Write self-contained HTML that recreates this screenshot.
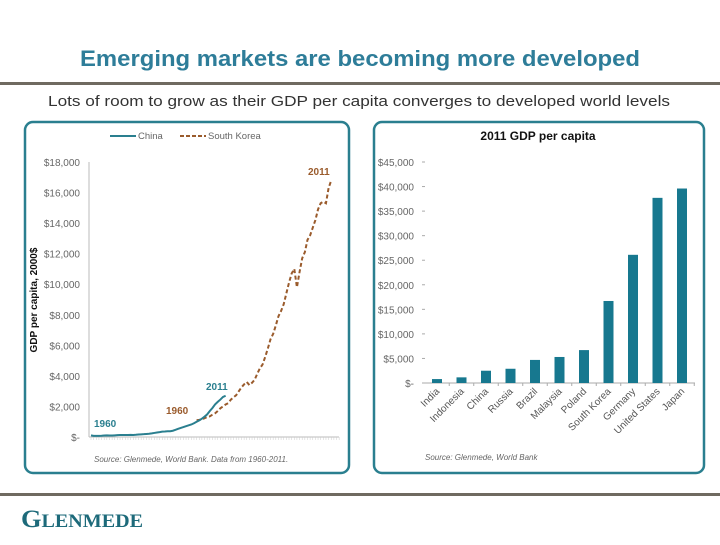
<!DOCTYPE html>
<html><head><meta charset="utf-8"><style>
body{margin:0;background:#fff;width:720px;height:540px;overflow:hidden}
svg text{font-family:"Liberation Sans",sans-serif}
</style></head><body>
<svg width="720" height="540" viewBox="0 0 720 540">
<text x="80" y="66" textLength="560" lengthAdjust="spacingAndGlyphs" font-size="22" font-weight="bold" fill="#2E7D99">Emerging markets are becoming more developed</text>
<rect x="0" y="82" width="720" height="3" fill="#6f6a60"/>
<text x="48" y="106" textLength="622" lengthAdjust="spacingAndGlyphs" font-size="15" fill="#333">Lots of room to grow as their GDP per capita converges to developed world levels</text>
<rect x="0" y="493" width="720" height="3" fill="#6f6a60"/>
<text x="21" y="527" textLength="122" lengthAdjust="spacingAndGlyphs" style="font-family:'Liberation Serif',serif" font-weight="bold" fill="#1d6a7a"><tspan font-size="25">G</tspan><tspan font-size="19">LENMEDE</tspan></text>

<rect x="25" y="122" width="324" height="351" rx="8" fill="#fff" stroke="#2a7f8f" stroke-width="2.5"/>
<rect x="374" y="122" width="330" height="351" rx="8" fill="#fff" stroke="#2a7f8f" stroke-width="2.5"/>
<g id="left"></g>
<g id="right"></g>
</svg>
<script>
const lineYTicks=[0,2000,4000,6000,8000,10000,12000,14000,16000,18000];
const lineYLabels=["$-","$2,000","$4,000","$6,000","$8,000","$10,000","$12,000","$14,000","$16,000","$18,000"];
const chinaGdp=[105,75,70,75,85,100,110,100,95,110,125,130,130,135,135,140,135,145,165,175,185,200,215,235,265,295,320,350,360,375,380,410,470,535,595,650,710,765,820,900,1000,1090,1200,1330,1480,1700,1900,2130,2300,2450,2620,2700];
const koreaGdp=[1100,1120,1150,1230,1300,1350,1460,1550,1700,1880,2000,2130,2220,2450,2600,2740,3000,3250,3450,3600,3400,3550,3750,4150,4500,4750,5250,5800,6400,6750,7300,7900,8250,8700,9400,10100,10700,11000,9800,10800,11700,12100,12900,13200,13700,14200,14900,15300,15400,15300,16300,16800];
const koreaOffset=40;
const barCats=["India","Indonesia","China","Russia","Brazil","Malaysia","Poland","South Korea","Germany","United States","Japan"];
const barVals=[800,1150,2500,2900,4700,5300,6700,16700,26100,37700,39600];
const barYTicks=[0,5000,10000,15000,20000,25000,30000,35000,40000,45000];
const barYLabels=["$-","$5,000","$10,000","$15,000","$20,000","$25,000","$30,000","$35,000","$40,000","$45,000"];

const NS="http://www.w3.org/2000/svg";
function mk(p,t,a,txt){const e=document.createElementNS(NS,t);for(const k in a)e.setAttribute(k,a[k]);if(txt!==undefined)e.textContent=txt;p.appendChild(e);return e;}
const L=document.getElementById('left'),R=document.getElementById('right');
const ly=v=>437-v/18000*275, lx=i=>91+i*2.64;
lineYTicks.forEach((t,i)=>{const e=mk(L,'text',{x:80,y:ly(t)+4,'text-anchor':'end','font-size':10,fill:'#666'},lineYLabels[i]);

});
mk(L,'line',{x1:89,y1:162,x2:89,y2:437,stroke:'#bbb'});
mk(L,'line',{x1:89,y1:437,x2:339,y2:437,stroke:'#bbb'});
for(let i=0;i<95;i++)mk(L,'line',{x1:lx(i),y1:437,x2:lx(i),y2:440,stroke:'#ccc','stroke-width':0.5});
const yt=mk(L,'text',{x:0,y:0,transform:'translate(37,300) rotate(-90)','text-anchor':'middle','font-size':10,'font-weight':'bold',fill:'#111'},'GDP per capita, 2000$');


const kp=mk(L,'polyline',{points:koreaGdp.map((v,i)=>lx(i+koreaOffset)+','+ly(v)).join(' '),fill:'none',stroke:'#9a5b2c','stroke-width':2,'stroke-dasharray':'4,2.5'});


const cp=mk(L,'polyline',{points:chinaGdp.map((v,i)=>lx(i)+','+ly(v)).join(' '),fill:'none',stroke:'#2a7f8f','stroke-width':2});


[[94,427,'1960','#2a7f8f'],[206,390,'2011','#2a7f8f'],[166,414,'1960','#9a5b2c'],[308,175,'2011','#9a5b2c']].forEach(a=>{const e=mk(L,'text',{x:a[0],y:a[1],'font-size':10,'font-weight':'bold',fill:a[3]},a[2]);

});
mk(L,'line',{x1:110,y1:136,x2:136,y2:136,stroke:'#2a7f8f','stroke-width':2});
const l1=mk(L,'text',{x:138,y:139,'font-size':9.5,fill:'#666'},'China');


mk(L,'line',{x1:180,y1:136,x2:206,y2:136,stroke:'#9a5b2c','stroke-width':2,'stroke-dasharray':'4,2'});
const l2=mk(L,'text',{x:208,y:139,'font-size':9.5,fill:'#666'},'South Korea');


const s1=mk(L,'text',{x:94,y:462,'font-size':8,'font-style':'italic',fill:'#666'},'Source: Glenmede, World Bank. Data from 1960-2011.');


const by=v=>383-v/45000*221, bx=i=>437+i*24.5;
const bt=mk(R,'text',{x:538,y:140,'text-anchor':'middle','font-size':12,'font-weight':'bold',fill:'#111'},'2011 GDP per capita');


barYTicks.forEach((t,i)=>{const e=mk(R,'text',{x:414,y:by(t)+4,'text-anchor':'end','font-size':10,fill:'#666'},barYLabels[i]);


mk(R,'line',{x1:422,y1:by(t),x2:425,y2:by(t),stroke:'#aaa'});});
mk(R,'line',{x1:424,y1:383,x2:695,y2:383,stroke:'#aaa'});
barCats.forEach((c,i)=>{const b=mk(R,'rect',{x:bx(i)-5,y:by(barVals[i]),width:10,height:383-by(barVals[i]),fill:'#17788f'});


mk(R,'line',{x1:bx(i)+12.25,y1:383,x2:bx(i)+12.25,y2:386,stroke:'#aaa'});
const t=mk(R,'text',{x:0,y:0,transform:`translate(${bx(i)+3},${392}) rotate(-45)`,'text-anchor':'end','font-size':10,fill:'#555'},c);

});
const s2=mk(R,'text',{x:425,y:460,'font-size':8,'font-style':'italic',fill:'#666'},'Source: Glenmede, World Bank');


</script>
</body></html>
